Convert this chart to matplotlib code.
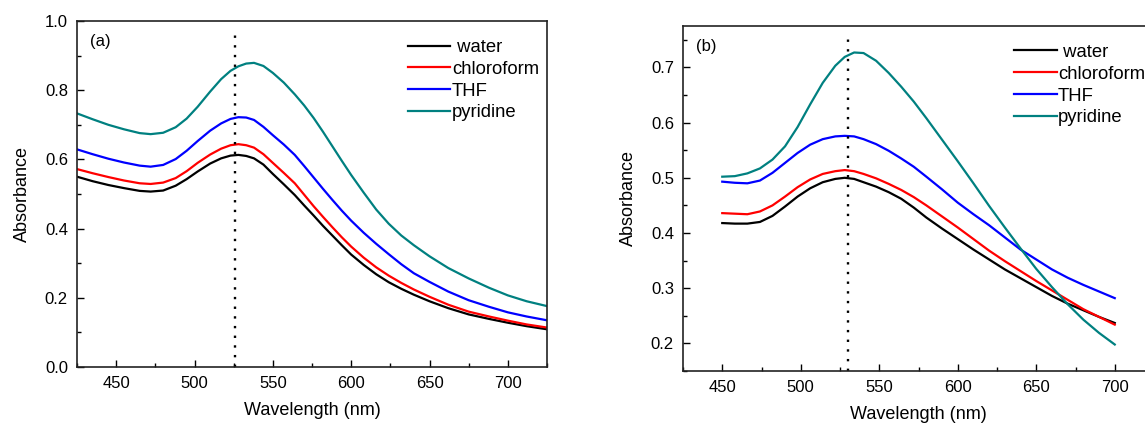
import matplotlib
matplotlib.use("Agg")
import matplotlib.pyplot as plt
from matplotlib.ticker import MultipleLocator, FormatStrFormatter

plt.rcParams["font.family"] = ["Liberation Sans", "DejaVu Sans"]

solvents = [" water", "chloroform", "THF", "pyridine"]
colors = ["#000000", "#ff0000", "#0000ff", "#008080"]

# panel (a)
wl_a = [425, 435, 445, 455, 465, 472, 480, 488, 495, 502, 510, 517, 523, 528, 533, 538, 544,
        550, 557, 564, 570, 576, 582, 588, 594, 600, 608, 616, 624, 632, 640, 650, 662,
        675, 688, 700, 712, 725]
water_a = [0.550, 0.537, 0.526, 0.517, 0.509, 0.507, 0.510, 0.524, 0.543, 0.565, 0.588, 0.603,
           0.611, 0.613, 0.610, 0.603, 0.585, 0.558, 0.528, 0.497, 0.467, 0.438, 0.408, 0.380,
           0.352, 0.325, 0.295, 0.268, 0.245, 0.226, 0.209, 0.190, 0.170, 0.152, 0.139, 0.128,
           0.118, 0.109]
chloroform_a = [0.572, 0.560, 0.549, 0.539, 0.531, 0.529, 0.533, 0.546, 0.566, 0.590, 0.614,
                0.631, 0.641, 0.644, 0.641, 0.634, 0.615, 0.590, 0.561, 0.531, 0.498, 0.465,
                0.434, 0.404, 0.375, 0.348, 0.316, 0.288, 0.264, 0.243, 0.224, 0.203, 0.180,
                0.160, 0.146, 0.134, 0.123, 0.114]
thf_a = [0.629, 0.615, 0.602, 0.591, 0.582, 0.579, 0.584, 0.601, 0.625, 0.653, 0.683, 0.704,
         0.717, 0.722, 0.721, 0.714, 0.694, 0.670, 0.643, 0.613, 0.581, 0.548, 0.515, 0.483,
         0.452, 0.423, 0.388, 0.356, 0.326, 0.297, 0.271, 0.246, 0.218, 0.193, 0.174, 0.158,
         0.146, 0.135]
pyridine_a = [0.733, 0.716, 0.700, 0.687, 0.676, 0.673, 0.677, 0.693, 0.718, 0.752, 0.796,
              0.832, 0.856, 0.869, 0.877, 0.879, 0.870, 0.850, 0.822, 0.788, 0.756, 0.720,
              0.680, 0.638, 0.596, 0.555, 0.504, 0.455, 0.414, 0.380, 0.352, 0.320, 0.286,
              0.256, 0.229, 0.207, 0.190, 0.176]
peak_a = 526

# panel (b)
wl_b = [450, 458, 466, 474, 482, 490, 498, 506, 514, 522, 528, 534, 540, 548, 556, 564,
        572, 580, 590, 600, 610, 620, 630, 640, 650, 660, 670, 680, 690, 700]
water_b = [0.418, 0.417, 0.417, 0.420, 0.431, 0.448, 0.466, 0.481, 0.492, 0.498, 0.500, 0.498,
           0.492, 0.484, 0.474, 0.462, 0.446, 0.428, 0.408, 0.389, 0.370, 0.352, 0.334, 0.318,
           0.302, 0.286, 0.272, 0.260, 0.248, 0.237]
chloroform_b = [0.436, 0.435, 0.434, 0.439, 0.450, 0.466, 0.483, 0.497, 0.507, 0.512, 0.514,
                0.512, 0.507, 0.499, 0.489, 0.478, 0.465, 0.450, 0.430, 0.410, 0.389, 0.368,
                0.349, 0.331, 0.313, 0.296, 0.279, 0.262, 0.248, 0.234]
thf_b = [0.493, 0.491, 0.490, 0.495, 0.509, 0.527, 0.545, 0.560, 0.570, 0.575, 0.576, 0.575,
         0.570, 0.561, 0.549, 0.535, 0.520, 0.502, 0.479, 0.455, 0.434, 0.414, 0.392, 0.370,
         0.352, 0.334, 0.319, 0.306, 0.294, 0.282]
pyridine_b = [0.502, 0.503, 0.508, 0.517, 0.533, 0.557, 0.592, 0.633, 0.672, 0.703, 0.719,
              0.727, 0.726, 0.712, 0.690, 0.665, 0.638, 0.608, 0.569, 0.530, 0.490, 0.449,
              0.410, 0.372, 0.335, 0.302, 0.271, 0.243, 0.219, 0.198]
peak_b = 530

W, H = 1145, 425
fig = plt.figure(figsize=(W / 100, H / 100), dpi=100)
ax_a = fig.add_axes([77 / W, (H - 367) / H, 470 / W, 346 / H])
ax_b = fig.add_axes([683 / W, (H - 371) / H, 471 / W, 345 / H])


def draw_panel(ax, wl, series, peak, label, ytop, leg_x):
    for name, ys, c in zip(solvents, series, colors):
        ax.plot(wl, ys, color=c, lw=1.6, label=name)
    ax.axvline(peak, ymin=0, ymax=ytop, color="black", lw=1.7, ls=(0, (1, 3.1)))
    ax.set_xlim(425, 725)
    ax.xaxis.set_major_locator(MultipleLocator(50))
    ax.xaxis.set_minor_locator(MultipleLocator(25))
    ax.tick_params(which="both", direction="in", labelsize=12, width=1.0, pad=6.5)
    ax.tick_params(which="major", length=5)
    ax.tick_params(which="minor", length=3)
    for s in ax.spines.values():
        s.set_linewidth(1.2)
        s.set_color("#222222")
    ax.set_xlabel("Wavelength (nm)", fontsize=13, labelpad=8)
    ax.set_ylabel("Absorbance", fontsize=13, labelpad=10)
    ax.text(0.028, 0.94, label, transform=ax.transAxes, fontsize=12, va="center")
    ax.legend(loc="upper left", bbox_to_anchor=(leg_x, 0.948), frameon=False,
              fontsize=13.3, handlelength=2.3, handletextpad=0.08,
              labelspacing=0.26, borderpad=0, borderaxespad=0)


draw_panel(ax_a, wl_a, [water_a, chloroform_a, thf_a, pyridine_a], peak_a, "(a)", 0.96, 0.704)
ax_a.set_ylim(0, 1.0)
ax_a.yaxis.set_major_locator(MultipleLocator(0.2))
ax_a.yaxis.set_minor_locator(MultipleLocator(0.1))
ax_a.yaxis.set_major_formatter(FormatStrFormatter("%.1f"))

draw_panel(ax_b, wl_b, [water_b, chloroform_b, thf_b, pyridine_b], peak_b, "(b)", 0.975, 0.703)
ax_b.set_ylim(0.15, 0.775)
ax_b.yaxis.set_major_locator(MultipleLocator(0.1))
ax_b.yaxis.set_minor_locator(MultipleLocator(0.05))
ax_b.yaxis.set_major_formatter(FormatStrFormatter("%.1f"))

fig.savefig("out.png", dpi=100)
